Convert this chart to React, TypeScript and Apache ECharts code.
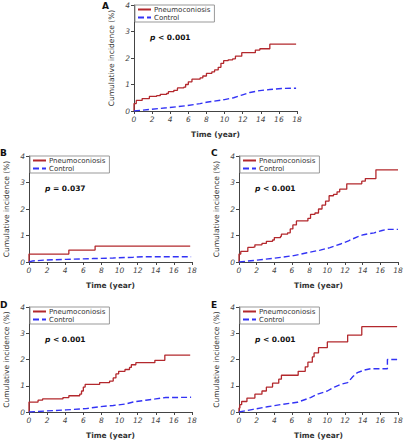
import React, { useEffect, useRef } from "react";
import * as echarts from "echarts";

const panelLetters = ["A", "B", "C", "D", "E"];
const pSigns = ["< 0.001", "= 0.037", "< 0.001", "< 0.001", "< 0.001"];
const seriesNames = ["Pneumoconiosis", "Control"];
const xAxisName = "Time (year)";
const yAxisName = "Cumulative incidence (%)";

const pneumoA = [[0,0],[0,0.28],[0.25,0.4],[0.9,0.47],[1.7,0.55],[2.5,0.58],[2.9,0.63],[3.6,0.66],[3.8,0.73],[4.4,0.78],[4.8,0.87],[5.5,0.9],[5.7,1.0],[6.0,1.1],[6.4,1.2],[7.3,1.25],[7.6,1.32],[8.0,1.42],[8.6,1.48],[8.9,1.55],[9.3,1.65],[9.6,1.8],[9.9,1.9],[10.4,1.93],[10.9,1.97],[11.2,2.07],[11.9,2.2],[13.4,2.3],[13.9,2.35],[15.0,2.52],[17.9,2.52]];
const controlA = [[0,0],[1.8,0.06],[3.6,0.12],[5.8,0.2],[7.3,0.28],[8,0.33],[10,0.43],[11,0.5],[11.9,0.6],[12.8,0.7],[13.9,0.77],[15,0.81],[16.3,0.85],[17.9,0.86]];

const pneumoB = [[0,0],[0,0.3],[4.4,0.45],[7.3,0.6],[17.8,0.6]];
const controlB = [[0,0],[0.4,0.04],[1.9,0.075],[4.1,0.1],[7.1,0.13],[9.3,0.15],[11.5,0.18],[12.6,0.2],[17.9,0.2]];

const pneumoC = [[0,0],[0,0.3],[0.2,0.4],[1.0,0.55],[1.6,0.57],[1.8,0.65],[2.6,0.7],[3.1,0.78],[3.8,0.83],[4.0,0.92],[4.7,0.97],[4.8,1.05],[5.5,1.1],[5.8,1.25],[6.1,1.4],[6.5,1.55],[7.8,1.65],[8.1,1.8],[8.6,1.85],[9.0,2.0],[9.4,2.15],[9.8,2.3],[10.2,2.5],[10.7,2.55],[11.1,2.65],[11.4,2.75],[12.2,2.95],[13.9,3.05],[14.3,3.15],[15.5,3.48],[18,3.48]];
const controlC = [[0,0],[2.0,0.07],[3.9,0.14],[6.2,0.24],[7.7,0.35],[9.2,0.45],[10.3,0.54],[11.5,0.68],[12.4,0.8],[13.4,0.95],[14.1,1.03],[15.3,1.1],[16.2,1.19],[16.8,1.23],[18,1.23]];

const pneumoD = [[0,0],[0,0.38],[1.0,0.45],[1.5,0.5],[3.75,0.55],[4.4,0.62],[5.6,0.68],[5.8,0.8],[6.0,0.95],[6.2,1.05],[7.8,1.12],[8.9,1.18],[9.3,1.3],[9.6,1.45],[9.9,1.55],[10.6,1.62],[11.1,1.7],[11.3,1.8],[11.8,1.88],[13.9,1.97],[15.0,2.17],[17.8,2.17]];
const controlD = [[0,0],[1.9,0.04],[4.1,0.08],[6.3,0.13],[7.8,0.2],[9.3,0.25],[10.6,0.3],[11.5,0.38],[12.9,0.45],[14.0,0.5],[15.1,0.55],[17.9,0.56]];

const pneumoE = [[0,0],[0,0.15],[0.1,0.28],[0.3,0.4],[0.9,0.53],[1.8,0.68],[2.6,0.8],[3.1,0.95],[3.8,1.1],[4.5,1.25],[4.8,1.4],[6.7,1.55],[7.5,1.72],[7.8,1.9],[8.3,2.1],[8.5,2.25],[9.0,2.45],[10.0,2.67],[12.3,2.93],[13.9,3.25],[17.9,3.25]];
const controlE = [[0,0],[1.6,0.1],[3.2,0.2],[4.7,0.28],[6.6,0.37],[8.1,0.55],[8.9,0.68],[10.0,0.8],[10.8,0.95],[11.5,1.05],[12.3,1.12],[12.9,1.35],[13.4,1.5],[14.2,1.6],[14.9,1.65],[16.8,1.65],[16.8,2.0],[17.9,2.0]];

const pneumoData = [pneumoA, pneumoB, pneumoC, pneumoD, pneumoE];
const controlData = [controlA, controlB, controlC, controlD, controlE];

// layout (pixels)
const grids = [
  { left: 134, top: 5, width: 163, height: 106 },
  { left: 29, top: 156, width: 163, height: 106 },
  { left: 239, top: 156, width: 159, height: 106 },
  { left: 29, top: 307, width: 163, height: 106 },
  { left: 239, top: 307, width: 159, height: 106 },
];
const letterPos = [[102, 1], [0, 148], [211, 148], [0, 300], [211, 300]];

const RED = "#b3282d";
const BLUE = "#3333f5";
const FONT = "DejaVu Sans";
const AXIS_COLOR = "#444";

export default function App() {
  const ref = useRef<HTMLDivElement>(null);
  useEffect(() => {
    if (!ref.current) return;
    const chart = echarts.init(ref.current, null, { renderer: "svg" });
    const xAxes: any[] = [];
    const yAxes: any[] = [];
    const series: any[] = [];
    const legends: any[] = [];
    const graphics: any[] = [];
    grids.forEach((g, i) => {
      xAxes.push({
        gridIndex: i, type: "value", min: 0, max: 18, interval: 2,
        name: xAxisName, nameLocation: "middle", nameGap: 19,
        nameTextStyle: { fontFamily: FONT, fontSize: 7.5, fontWeight: "bold", color: "#333" },
        axisLine: { lineStyle: { color: AXIS_COLOR, width: 1 } },
        axisTick: { length: 3, lineStyle: { color: AXIS_COLOR } },
        axisLabel: { fontFamily: FONT, fontSize: 7.5, fontStyle: "italic", color: "#444", margin: 4 },
        splitLine: { show: false },
      });
      yAxes.push({
        gridIndex: i, type: "value", min: 0, max: 4, interval: 1,
        name: yAxisName, nameLocation: "middle", nameGap: 19, nameRotate: 90,
        nameTextStyle: { fontFamily: FONT, fontSize: 7.5, color: "#333" },
        axisLine: { show: true, lineStyle: { color: AXIS_COLOR, width: 1 } },
        axisTick: { show: true, length: 3, lineStyle: { color: AXIS_COLOR } },
        axisLabel: { fontFamily: FONT, fontSize: 7.5, fontStyle: "italic", color: "#444", margin: 4 },
        splitLine: { show: false },
      });
      series.push({
        name: seriesNames[0], type: "line", xAxisIndex: i, yAxisIndex: i,
        data: pneumoData[i], step: "end", showSymbol: false, symbol: "none",
        lineStyle: { color: RED, width: 1.3 }, itemStyle: { color: RED },
      });
      series.push({
        name: seriesNames[1], type: "line", xAxisIndex: i, yAxisIndex: i,
        data: controlData[i], showSymbol: false, symbol: "none",
        lineStyle: { color: BLUE, width: 1.4, type: [6, 3] }, itemStyle: { color: BLUE },
      });
      legends.push({
        data: seriesNames, orient: "vertical", left: g.left + 1, top: g.top,
        itemWidth: 13, itemHeight: 6, itemGap: 1, padding: [1, 4, 1, 2],
        borderColor: "#999", borderWidth: 1, backgroundColor: "#fff",
        itemStyle: { opacity: 0 },
        textStyle: { fontFamily: FONT, fontSize: 7, color: "#333", padding: [0, 0, 0, -2] },
        selectedMode: false,
      });
      graphics.push({
        type: "text", left: letterPos[i][0], top: letterPos[i][1],
        style: { text: panelLetters[i], fontFamily: FONT, fontSize: 9, fontWeight: "bold", fill: "#111" },
      });
      graphics.push({
        type: "text", left: g.left + 16, top: g.top + 28,
        style: {
          text: "{i|p} " + pSigns[i],
          fontFamily: FONT, fontSize: 7.5, fontWeight: "bold", fill: "#111",
          rich: { i: { fontFamily: FONT, fontSize: 7.5, fontWeight: "bold", fontStyle: "italic", fill: "#111" } },
        },
      });
    });
    chart.setOption({
      animation: false,
      backgroundColor: "#fff",
      grid: grids,
      xAxis: xAxes,
      yAxis: yAxes,
      legend: legends,
      series,
      graphic: graphics,
    });
    return () => chart.dispose();
  }, []);
  return <div ref={ref} style={{ position: "fixed", left: 0, top: 0, width: 407, height: 440 }} />;
}
